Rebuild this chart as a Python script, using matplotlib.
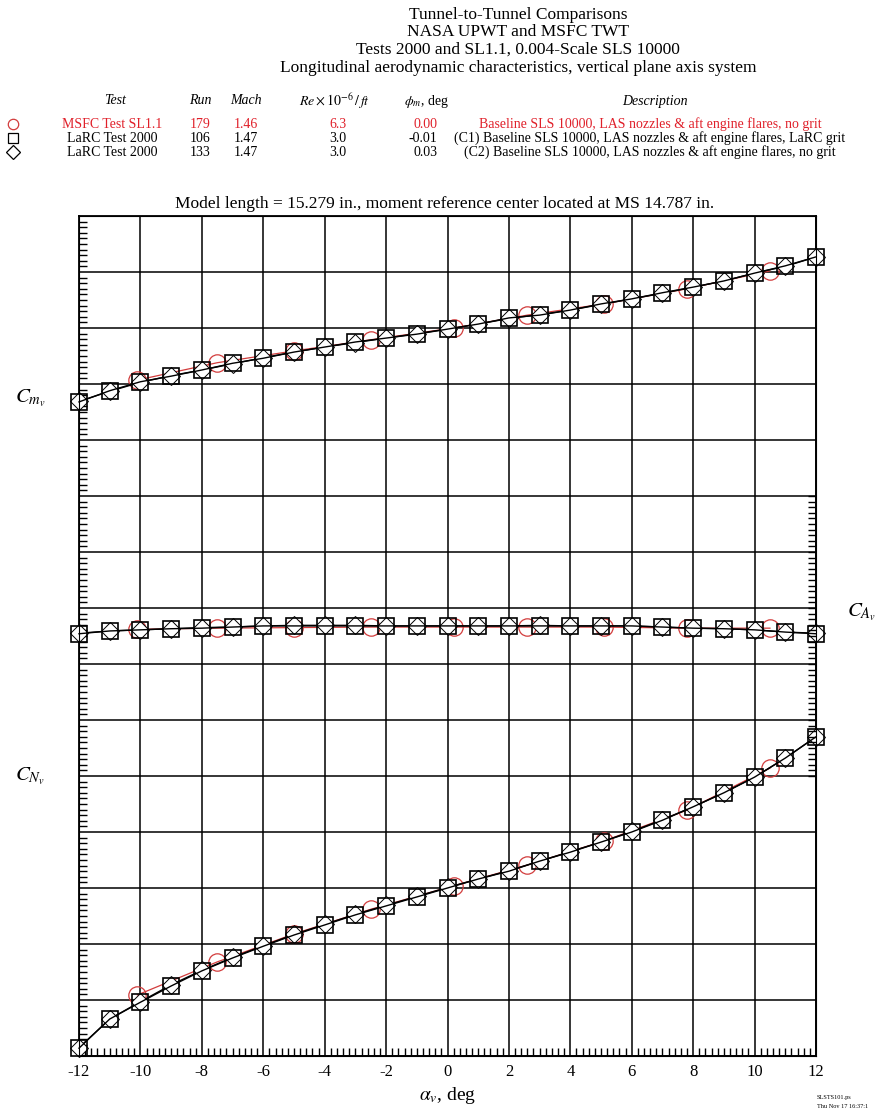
import numpy as np
import matplotlib.pyplot as plt
from matplotlib.ticker import FixedLocator, MultipleLocator
from matplotlib.lines import Line2D

plt.rcParams['font.family'] = ['Liberation Serif', 'DejaVu Serif']
plt.rcParams['mathtext.fontset'] = 'stix'
plt.rcParams['axes.unicode_minus'] = False

# angle of attack
alpha = [-12, -11, -10, -9, -8, -7, -6, -5, -4, -3, -2, -1, 0,
         1, 2, 3, 4, 5, 6, 7, 8, 9, 10, 11, 12]

# values in plot grid units (no scale printed on the chart)
cm_run106 = [11.68, 11.88, 12.04, 12.14, 12.25, 12.37, 12.46, 12.57, 12.66, 12.75, 12.82, 12.89, 12.98,
             13.07, 13.18, 13.23, 13.32, 13.43, 13.52, 13.63, 13.73, 13.84, 13.98, 14.11, 14.27]
cm_run133 = [11.69, 11.87, 12.03, 12.15, 12.25, 12.36, 12.47, 12.57, 12.66, 12.74, 12.82, 12.90, 12.98,
             13.07, 13.17, 13.24, 13.32, 13.42, 13.52, 13.62, 13.73, 13.84, 13.98, 14.10, 14.27]
ca_run106 = [7.54, 7.59, 7.61, 7.63, 7.64, 7.66, 7.68, 7.68, 7.68, 7.68, 7.68, 7.68, 7.68,
             7.68, 7.68, 7.68, 7.68, 7.68, 7.68, 7.66, 7.64, 7.63, 7.61, 7.57, 7.54]
ca_run133 = [7.55, 7.59, 7.61, 7.63, 7.65, 7.66, 7.68, 7.69, 7.69, 7.69, 7.68, 7.68, 7.68,
             7.68, 7.68, 7.69, 7.68, 7.68, 7.68, 7.66, 7.64, 7.63, 7.61, 7.57, 7.55]
cn_run106 = [0.14, 0.66, 0.96, 1.25, 1.52, 1.75, 1.96, 2.16, 2.34, 2.52, 2.68, 2.84, 3.00,
             3.16, 3.30, 3.48, 3.64, 3.82, 4.00, 4.21, 4.45, 4.70, 4.98, 5.32, 5.70]
cn_run133 = [0.15, 0.66, 0.97, 1.27, 1.53, 1.76, 1.97, 2.17, 2.35, 2.53, 2.69, 2.85, 3.01,
             3.16, 3.31, 3.48, 3.65, 3.82, 4.01, 4.22, 4.45, 4.70, 4.98, 5.32, 5.70]

alpha_179 = [-10.1, -7.5, -5.0, -2.5, 0.2, 2.6, 5.1, 7.8, 10.5]
cm_run179 = [12.07, 12.38, 12.59, 12.79, 13.00, 13.23, 13.43, 13.70, 14.02]
ca_run179 = [7.62, 7.64, 7.65, 7.66, 7.66, 7.66, 7.66, 7.64, 7.64]
cn_run179 = [1.09, 1.68, 2.18, 2.62, 3.04, 3.41, 3.84, 4.39, 5.14]

W, H = 885, 1114


def px(x, y):
    return x / W, 1 - y / H


red = '#d23c3c'
fig = plt.figure(figsize=(W / 100, H / 100), dpi=100)
ax = fig.add_axes([79 / W, 58 / H, 737 / W, 840 / H])
ax.set_xlim(-12, 12)
ax.set_ylim(0, 15)
ax.set_xticks(np.arange(-12, 13, 2))
ax.set_yticks(np.arange(0, 16, 1))
ax.set_yticklabels([])
ax.xaxis.set_minor_locator(MultipleLocator(0.2))
ax.yaxis.set_minor_locator(MultipleLocator(0.1))
ax.tick_params(which='major', length=0, labelsize=12, pad=6)
ax.tick_params(which='minor', direction='in', length=6, width=1.0, color='black')
ax.grid(True, which='major', color='black', lw=1.1)
for s in ax.spines.values():
    s.set_linewidth(1.3)

ax2 = ax.twinx()
ax2.set_ylim(0, 15)
ax2.set_yticks([])
ax2.yaxis.set_minor_locator(FixedLocator(np.arange(5.0, 10.01, 0.1)))
ax2.tick_params(which='minor', direction='in', length=6, width=1.0)

for yv in (cm_run179, ca_run179, cn_run179):
    ax.plot(alpha_179, yv, color=red, lw=0.9, marker='o', ms=12.5, mfc='none', mec=red, mew=0.9,
            zorder=3, clip_on=False)
for yv in (cm_run133, ca_run133, cn_run133):
    ax.plot(alpha, yv, color='black', lw=1.0, marker='D', ms=9.3, mfc='white', mec='black', mew=0.7,
            zorder=4, clip_on=False)
for yv in (cm_run106, ca_run106, cn_run106):
    ax.plot(alpha, yv, color='black', lw=1.0, marker='s', ms=11, mfc='none', mec='black', mew=1.2,
            zorder=5, clip_on=False)

ax.set_xlabel(r'$\alpha_v$, deg', fontsize=14, labelpad=3)

fig.text(*px(30, 398), r'$C_{m_v}$', fontsize=15, ha='center', va='center')
fig.text(*px(30, 776), r'$C_{N_v}$', fontsize=15, ha='center', va='center')
fig.text(*px(862, 612), r'$C_{A_v}$', fontsize=15, ha='center', va='center')

# header
titles = ['Tunnel-to-Tunnel Comparisons', 'NASA UPWT and MSFC TWT',
          'Tests 2000 and SL1.1, 0.004-Scale SLS 10000',
          'Longitudinal aerodynamic characteristics, vertical plane axis system']
for i, t in enumerate(titles):
    fig.text(*px(518, 15 + 17.5 * i), t, fontsize=12.5, ha='center', va='center')

hdr_y = 101
fs = 10
fig.text(*px(115, hdr_y), 'Test', fontsize=fs, style='italic', ha='center', va='center')
fig.text(*px(200, hdr_y), 'Run', fontsize=fs, style='italic', ha='center', va='center')
fig.text(*px(246, hdr_y), 'Mach', fontsize=fs, style='italic', ha='center', va='center')
fig.text(*px(335, hdr_y), r'$Re \times 10^{-6}\,/\,ft$', fontsize=fs, ha='center', va='center')
fig.text(*px(426, hdr_y), r'$\phi_m$, deg', fontsize=fs, ha='center', va='center')
fig.text(*px(655, hdr_y), 'Description', fontsize=fs, style='italic', ha='center', va='center')

tests = ['MSFC Test SL1.1', 'LaRC Test 2000', 'LaRC Test 2000']
runs = ['179', '106', '133']
machs = ['1.46', '1.47', '1.47']
reyn = ['6.3', '3.0', '3.0']
phis = ['0.00', '-0.01', '0.03']
descs = ['Baseline SLS 10000, LAS nozzles & aft engine flares, no grit',
         '(C1) Baseline SLS 10000, LAS nozzles & aft engine flares, LaRC grit',
         '(C2) Baseline SLS 10000, LAS nozzles & aft engine flares, no grit']
syms = ['o', 's', 'D']
cols = [red, 'black', 'black']
tcols = ['#e0202a', 'black', 'black']
for i in range(3):
    y = 124 + 14 * i
    fig.add_artist(Line2D([13 / W], [1 - y / H], marker=syms[i], ms=7.5 if i < 2 else 7,
                          mfc='none', mec=cols[i], mew=0.9, ls='none'))
    fig.text(*px(112, y), tests[i], fontsize=fs, color=tcols[i], ha='center', va='center')
    fig.text(*px(200, y), runs[i], fontsize=fs, color=tcols[i], ha='center', va='center')
    fig.text(*px(246, y), machs[i], fontsize=fs, color=tcols[i], ha='center', va='center')
    fig.text(*px(338, y), reyn[i], fontsize=fs, color=tcols[i], ha='center', va='center')
    fig.text(*px(437, y), phis[i], fontsize=fs, color=tcols[i], ha='right', va='center')
    fig.text(*px(650, y), descs[i], fontsize=fs, color=tcols[i], ha='center', va='center')

fig.text(*px(445, 204), 'Model length = 15.279 in., moment reference center located at MS 14.787 in.',
         fontsize=12.5, ha='center', va='center')

fig.text(*px(817, 1097), 'SLSTS101.ps', fontsize=4.5, ha='left', va='center')
fig.text(*px(817, 1106), 'Thu Nov 17 16:37:1', fontsize=4.5, ha='left', va='center')

fig.savefig('out.png', dpi=100)
